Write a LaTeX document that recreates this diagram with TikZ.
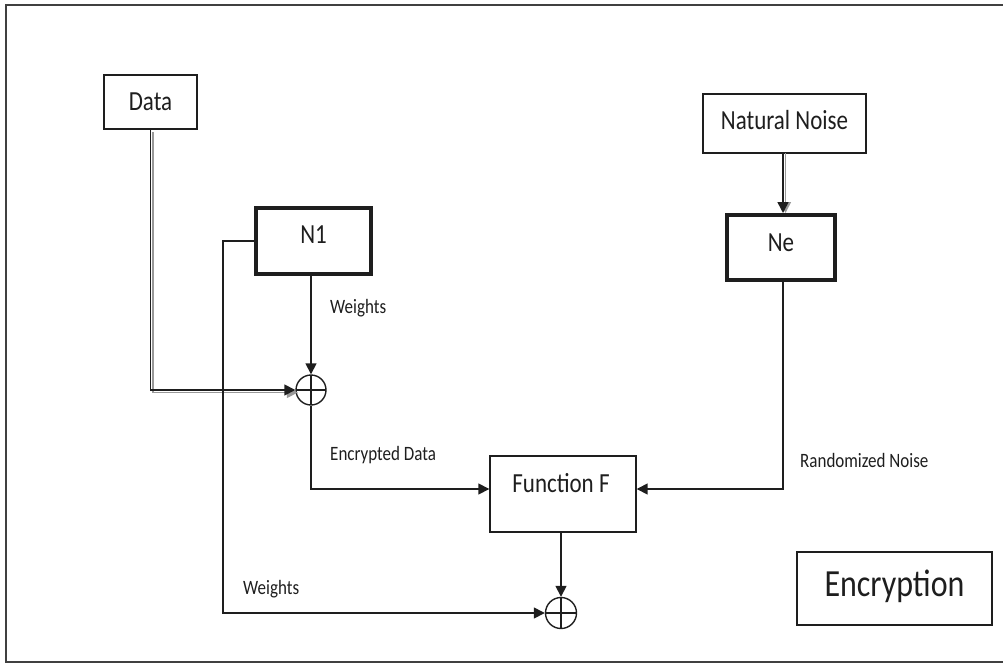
\documentclass[tikz,border=0pt]{standalone}
\usepackage{fontspec}
\setmainfont{Carlito}
\usetikzlibrary{arrows.meta}
\definecolor{ink}{HTML}{1E1E1E}
% tall, slightly narrow lettering
\newcommand\tall[1]{\scalebox{1}[1.2]{#1}}
% same, drawn a little above the node centre without changing the node size
\newcommand\tallup[2]{\raisebox{#1}[\height][\depth]{\tall{#2}}}
\begin{document}
\begin{tikzpicture}[x=1pt,y=-1pt,
  every node/.style={text=ink},
  box/.style={draw=ink, line width=1.4pt, rectangle, inner sep=0pt, font=\fontsize{23}{26}\selectfont},
  thickbox/.style={box, line width=4pt},
  sumnode/.style={draw=ink, circle, line width=1.4pt, minimum size=30pt, inner sep=0pt,
    path picture={\draw[ink, line width=1.2pt]
      (path picture bounding box.north) -- (path picture bounding box.south)
      (path picture bounding box.west) -- (path picture bounding box.east);}},
  wire/.style={draw=ink, line width=1.5pt},
  flow/.style={wire, -{Triangle[length=11pt,width=11pt]}},
  shade/.style={draw=black!40, line width=1.5pt},
  tag/.style={font=\fontsize{17}{19}\selectfont, anchor=west, inner sep=0pt},
  frame/.style={draw=black!75, line width=2pt}
]
\useasboundingbox (0,0) rectangle (1003,664);

% outer frame, open to the right
\draw[frame] (1010,5) -- (6,5) -- (6,662) -- (1010,662);

% blocks
\node[box, minimum width=93pt, minimum height=54pt] (data) at (150.5,102) {\tall{Data}};
\node[thickbox, minimum width=115pt, minimum height=66pt] (n1) at (313.5,241) {\tallup{6pt}{N1}};
\node[box, minimum width=163pt, minimum height=59pt] (nn) at (784.5,123.5) {\tallup{3pt}{Natural Noise}};
\node[thickbox, minimum width=108pt, minimum height=65pt] (ne) at (781,247.5) {\tallup{5pt}{Ne}};
\node[box, minimum width=146pt, minimum height=76pt] (fun) at (563,494) {};
\node[font=\fontsize{23}{26}\selectfont, inner sep=0pt] (funlbl) at (561,483) {\tall{Function F}};
\node[box, minimum width=195pt, minimum height=73pt, font=\fontsize{32}{36}\selectfont] (enc) at (894.5,588.5) {\tallup{2pt}{Encryption}};

% adders
\node[sumnode] (c1) at (311,390) {};
\node[sumnode, minimum size=31pt] (c2) at (561,613) {};

% grey double strokes behind two of the inputs
\draw[shade, transform canvas={shift={(2.5pt,-2.5pt)}}, -{Triangle[length=11pt,width=11pt]}]
  (data.south) |- (c1.west);
\draw[shade, transform canvas={shift={(2.5pt,0pt)}}, -{Triangle[length=11pt,width=11pt]}]
  (783,153) -- (783,213);

% connectors
\draw[flow] (data.south) |- (c1.west);
\draw[flow] (c1.north |- n1.south) -- (c1.north);
\coordinate (wbend) at (223,241);
\draw[flow] (n1.west) -- (wbend) |- (c2.west);
\draw[flow] (c1.south) |- ([yshift=5pt]fun.west);
\draw[flow] (783,153) -- (783,213);
\draw[flow] (ne.south -| 783,0) |- ([yshift=5pt]fun.east);
\draw[flow] (c2.north |- fun.south) -- (c2.north);

% labels
\node[tag] (lw1) at (330,308) {\tall{Weights}};
\node[tag] (led) at (330,455) {\tall{Encrypted Data}};
\node[tag] (lrn) at (800,460) {\tall{Randomized Noise}};
\node[tag] (lw2) at (243,589) {\tall{Weights}};
\end{tikzpicture}
\end{document}
